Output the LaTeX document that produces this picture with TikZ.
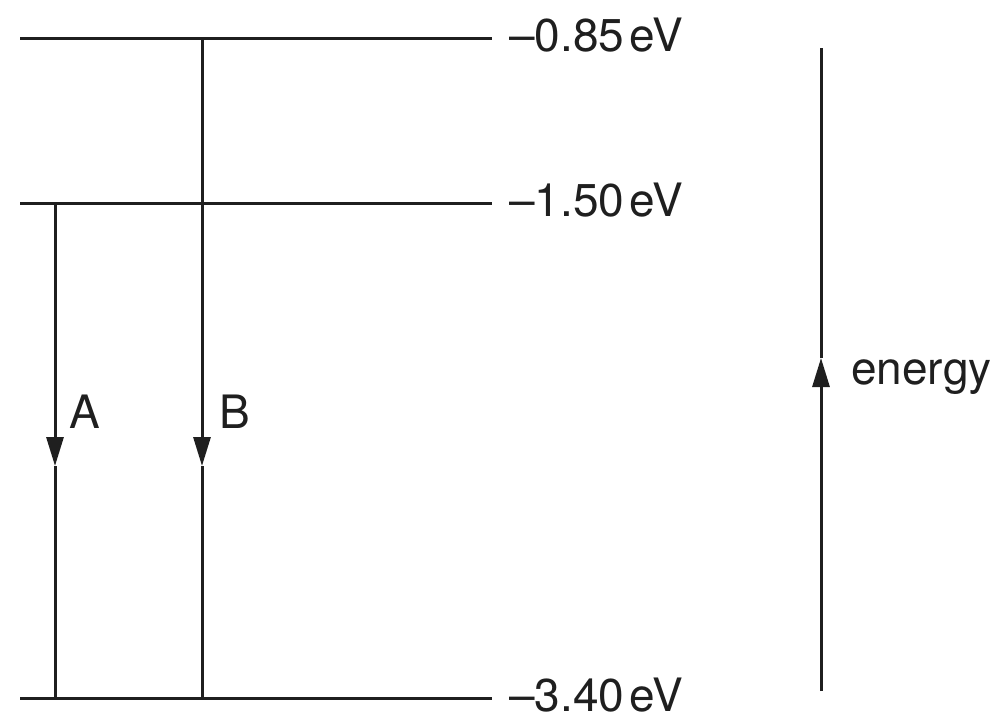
\documentclass[tikz,border=0pt]{standalone}
\usepackage{fontspec}
\setmainfont{TeX Gyre Heros}
\usetikzlibrary{arrows.meta}
\begin{document}
\begin{tikzpicture}[x=1pt,y=-1pt,
  level/.style={line width=3pt, color=black!88},
  trans/.style={line width=3pt, color=black!88},
  tip/.style={-{Triangle[length=29pt,width=17pt]}},
  lab/.style={inner sep=0pt, anchor=base west, font=\fontsize{46}{50}\selectfont, text=black!88}]
\useasboundingbox (0,0) rectangle (1007,728);
% levels
\coordinate (L1a) at (20,38);  \coordinate (L1b) at (492,38);
\coordinate (L2a) at (20,203); \coordinate (L2b) at (492,203);
\coordinate (L3a) at (20,698); \coordinate (L3b) at (492,698);
\draw[level] (L1a) -- (L1b);
\draw[level] (L2a) -- (L2b);
\draw[level] (L3a) -- (L3b);
\node[lab] (t1) at (509,51) {–0.85\kern5pt eV};
\node[lab] (t2) at (509,216) {–1.50\kern5pt eV};
\node[lab] (t3) at (509,711) {–3.40\kern5pt eV};
% transition A
\coordinate (Atop) at (55,203); \coordinate (Amid) at (55,466); \coordinate (Abot) at (55,698);
\draw[trans,tip] (Atop) -- (Amid);
\draw[trans] (Amid) -- (Abot);
\node[lab] (A) at (69,428) {A};
% transition B
\coordinate (Btop) at (202,38); \coordinate (Bmid) at (202,466); \coordinate (Bbot) at (202,698);
\draw[trans,tip] (Btop) -- (Bmid);
\draw[trans] (Bmid) -- (Bbot);
\node[lab] (B) at (219,428) {B};
% energy axis
\coordinate (Ebot) at (821,691); \coordinate (Emid) at (821,358); \coordinate (Etop) at (821,48);
\draw[trans,tip] (Ebot) -- (Emid);
\draw[trans] (Emid) -- (Etop);
\node[lab] (E) at (851,384) {energy};
\end{tikzpicture}
\end{document}
